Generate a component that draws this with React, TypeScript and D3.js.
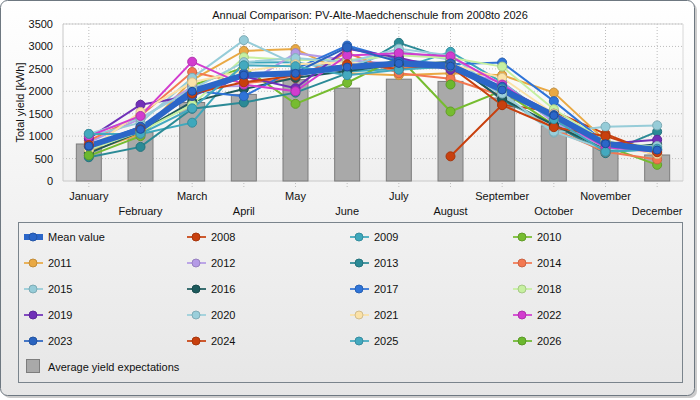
import * as d3 from "d3";

const months = ["January", "February", "March", "April", "May", "June", "July", "August", "September", "October", "November", "December"];
const yTicks = [0, 500, 1000, 1500, 2000, 2500, 3000, 3500];

// average yield expectations (bars)
const expected = [825, 1080, 1750, 1930, 2260, 2070, 2270, 2220, 1850, 1230, 765, 580];

const meanValue = [780, 1150, 2000, 2360, 2400, 2540, 2620, 2560, 2030, 1460, 830, 690];

const y2008 = [null, null, null, null, null, null, null, 550, 1700, 1550, 1050, 600];
const y2009 = [1050, 1050, 1300, 2640, 2650, 2440, 2500, 2880, 2200, 1360, 650, 700];
const y2010 = [560, 1000, 2130, 2530, 1720, 2190, 2760, 1550, 2010, 1250, 780, 360];
const y2011 = [650, 1050, 2250, 2900, 2940, 2400, 2360, 2400, 2360, 1970, 900, 580];
const y2012 = [860, 1390, 2100, 2120, 2850, 2700, 2600, 2500, 2200, 1300, 750, 770];
const y2013 = [530, 760, 1610, 1750, 1970, 2400, 3080, 2700, 1800, 1250, 620, 1100];
const y2014 = [900, 1450, 2430, 2180, 2290, 2860, 2400, 2280, 1900, 1150, 650, 480];
const y2015 = [1000, 1300, 2300, 3140, 2600, 2550, 2900, 2700, 1900, 1080, 1210, 1240];
const y2016 = [620, 1100, 1770, 2050, 2300, 2450, 2600, 2650, 1830, 1250, 700, 820];
const y2017 = [780, 1200, 2010, 1890, 2500, 3020, 2700, 2600, 2640, 1780, 850, 700];
const y2018 = [700, 1100, 1700, 2760, 2700, 2700, 2800, 2750, 2550, 1600, 880, 750];
const y2019 = [950, 1700, 1900, 2330, 2070, 2950, 2750, 2480, 2100, 1500, 830, 920];
const y2020 = [1050, 1400, 2050, 2650, 2740, 2650, 2950, 2800, 1950, 1100, 700, 780];
const y2021 = [700, 1540, 2200, 2450, 2600, 2650, 2500, 2600, 2300, 1500, 820, 600];
const y2022 = [1000, 1450, 2660, 2150, 2000, 2800, 2850, 2780, 2150, 1400, 750, 650];
const y2023 = [770, 1210, 1900, 2400, 2420, 2980, 2660, 2620, 2100, 1470, 840, 680];
const y2024 = [800, 1150, 1950, 2200, 2350, 2600, 2500, 2550, 1690, 1200, 1000, 640];
const y2025 = [1050, 1050, 1620, 2580, 2560, 2360, 2480, 2550, 2050, 1380, 650, 720];
const y2026 = [570, null, null, null, null, null, null, 2150, null, null, null, null];

const years = [
  { name: "2008", color: "#c8400e", values: y2008 },
  { name: "2009", color: "#3ea8bc", values: y2009 },
  { name: "2010", color: "#76bc30", values: y2010 },
  { name: "2011", color: "#e9a944", values: y2011 },
  { name: "2012", color: "#b49ae6", values: y2012 },
  { name: "2013", color: "#2b8a96", values: y2013 },
  { name: "2014", color: "#f37851", values: y2014 },
  { name: "2015", color: "#96ccd8", values: y2015 },
  { name: "2016", color: "#1d5a5c", values: y2016 },
  { name: "2017", color: "#2f74d8", values: y2017 },
  { name: "2018", color: "#c6f0a0", values: y2018 },
  { name: "2019", color: "#7030b8", values: y2019 },
  { name: "2020", color: "#9acfdb", values: y2020 },
  { name: "2021", color: "#fbe2a8", values: y2021 },
  { name: "2022", color: "#d23ccf", values: y2022 },
  { name: "2023", color: "#2a64c0", values: y2023 },
  { name: "2024", color: "#c8400e", values: y2024 },
  { name: "2025", color: "#43a9bf", values: y2025 },
  { name: "2026", color: "#6cb82e", values: y2026 },
];
const meanColor = "#2b66c8";

const font = "'Liberation Sans', Arial, sans-serif";

export default function App() {
  const width = 700;
  const height = 400;
  const plot = { left: 63, right: 683, top: 24, bottom: 181 };

  const x = d3.scaleBand<string>().domain(months).range([plot.left, plot.right]).padding(0);
  const y = d3.scaleLinear().domain([0, 3500]).range([plot.bottom, plot.top]);
  const cx = (m: string) => (x(m) as number) + x.bandwidth() / 2;
  const barW = 25;

  const line = d3
    .line<number | null>()
    .defined((d) => d != null)
    .x((_, i) => cx(months[i]))
    .y((d) => y(d as number));

  const legendItems = [{ name: "Mean value", color: meanColor, mean: true }, ...years.map((s) => ({ ...s, mean: false }))];
  const colX = [24, 187, 350, 513];
  const rowY = [237, 263, 289, 315, 341];

  return (
    <svg width={width} height={height} style={{ position: "absolute", left: 0, top: 0 }} fontFamily={font}>
      <defs>
        <linearGradient id="panelBg" x1="0" y1="0" x2="0" y2="1">
          <stop offset="0" stopColor="#ffffff" />
          <stop offset="1" stopColor="#e6e6e6" />
        </linearGradient>
        <linearGradient id="plotBg" x1="0" y1="0" x2="0" y2="1">
          <stop offset="0" stopColor="#ffffff" />
          <stop offset="1" stopColor="#efefef" />
        </linearGradient>
        <clipPath id="plotClip">
          <rect x={plot.left} y={plot.top - 6} width={plot.right - plot.left} height={plot.bottom - plot.top + 6} />
        </clipPath>
      </defs>

      {/* outer panel */}
      <rect x={3} y={3} width={694} height={395} rx={7} fill="#9a9a9a" opacity={0.5} />
      <rect x={0.5} y={0.5} width={694} height={395} rx={7} fill="url(#panelBg)" stroke="#6e7881" />

      {/* title */}
      <text x={370} y={19} textAnchor="middle" fontSize={11} fill="#111">
        Annual Comparison: PV-Alte-Maedchenschule from 2008to 2026
      </text>

      {/* plot background */}
      <rect x={plot.left} y={plot.top} width={plot.right - plot.left} height={plot.bottom - plot.top} fill="url(#plotBg)" />

      {/* grid */}
      {yTicks.slice(1).map((t) => (
        <line key={t} x1={plot.left} x2={plot.right} y1={y(t)} y2={y(t)} stroke="#bdbdbd" strokeDasharray="1,2" />
      ))}
      {months.map((m) => (
        <line key={m} x1={cx(m)} x2={cx(m)} y1={plot.top} y2={plot.bottom + 8} stroke="#bdbdbd" strokeDasharray="1,2" />
      ))}
      <line x1={plot.left} x2={plot.right} y1={plot.top} y2={plot.top} stroke="#cfcfcf" />
      <line x1={plot.right} x2={plot.right} y1={plot.top} y2={plot.bottom} stroke="#d8d8d8" />
      <line x1={plot.left} x2={plot.left} y1={plot.top} y2={plot.bottom} stroke="#c8c8c8" />
      <line x1={plot.left} x2={plot.right} y1={plot.bottom} y2={plot.bottom} stroke="#c8c8c8" />

      {/* y axis */}
      {yTicks.map((t) => (
        <text key={t} x={53} y={y(t) + 4} textAnchor="end" fontSize={11} fill="#111">
          {t}
        </text>
      ))}
      <text transform={`translate(24,${(plot.top + plot.bottom) / 2}) rotate(-90)`} textAnchor="middle" fontSize={11} fill="#111">
        Total yield [kWh]
      </text>

      {/* x axis labels, staggered */}
      {months.map((m, i) => (
        <text key={m} x={cx(m)} y={i % 2 === 0 ? 200 : 215} textAnchor="middle" fontSize={11} fill="#111">
          {m}
        </text>
      ))}

      {/* bars */}
      {expected.map((v, i) => (
        <rect
          key={i}
          x={cx(months[i]) - barW / 2}
          y={y(v)}
          width={barW}
          height={y(0) - y(v)}
          fill="#a9a9a9"
          stroke="#7d7d7d"
        />
      ))}

      <g clipPath="url(#plotClip)">
        {years.map((s) => (
          <path key={s.name} d={line(s.values) || ""} fill="none" stroke={s.color} strokeWidth={2} />
        ))}
        <path d={line(meanValue) || ""} fill="none" stroke={meanColor} strokeWidth={6} />
      </g>

      {/* markers */}
      {years.map((s) =>
        s.values.map((v, i) =>
          v == null ? null : (
            <circle
              key={s.name + i}
              cx={cx(months[i])}
              cy={y(v)}
              r={4.5}
              fill={s.color}
              stroke={d3.color(s.color)!.darker(0.5).toString()}
              strokeWidth={1}
            />
          )
        )
      )}
      {meanValue.map((v, i) => (
        <circle key={"m" + i} cx={cx(months[i])} cy={y(v)} r={4} fill={meanColor} stroke="#1d4c9a" strokeWidth={1} />
      ))}

      {/* legend */}
      <rect x={18.5} y={222.5} width={664} height={160} fill="none" stroke="#7a848c" />
      {legendItems.map((it, i) => {
        const lx = colX[i % 4];
        const ly = rowY[Math.floor(i / 4)];
        const stroke = d3.color(it.color)!.darker(0.5).toString();
        return (
          <g key={it.name}>
            {it.mean ? (
              <rect x={lx} y={ly - 3} width={19} height={6} fill={it.color} />
            ) : (
              <line x1={lx} x2={lx + 19} y1={ly} y2={ly} stroke={it.color} strokeWidth={2} opacity={0.85} />
            )}
            <circle cx={lx + 9} cy={ly} r={4} fill={it.color} stroke={stroke} strokeWidth={1} />
            <text x={lx + 24} y={ly + 4} fontSize={11} fill="#111">
              {it.name}
            </text>
          </g>
        );
      })}
      <rect x={26.5} y={359.5} width={13} height={13} fill="#a9a9a9" stroke="#7d7d7d" />
      <text x={48} y={371} fontSize={11} fill="#111">
        Average yield expectations
      </text>
    </svg>
  );
}
